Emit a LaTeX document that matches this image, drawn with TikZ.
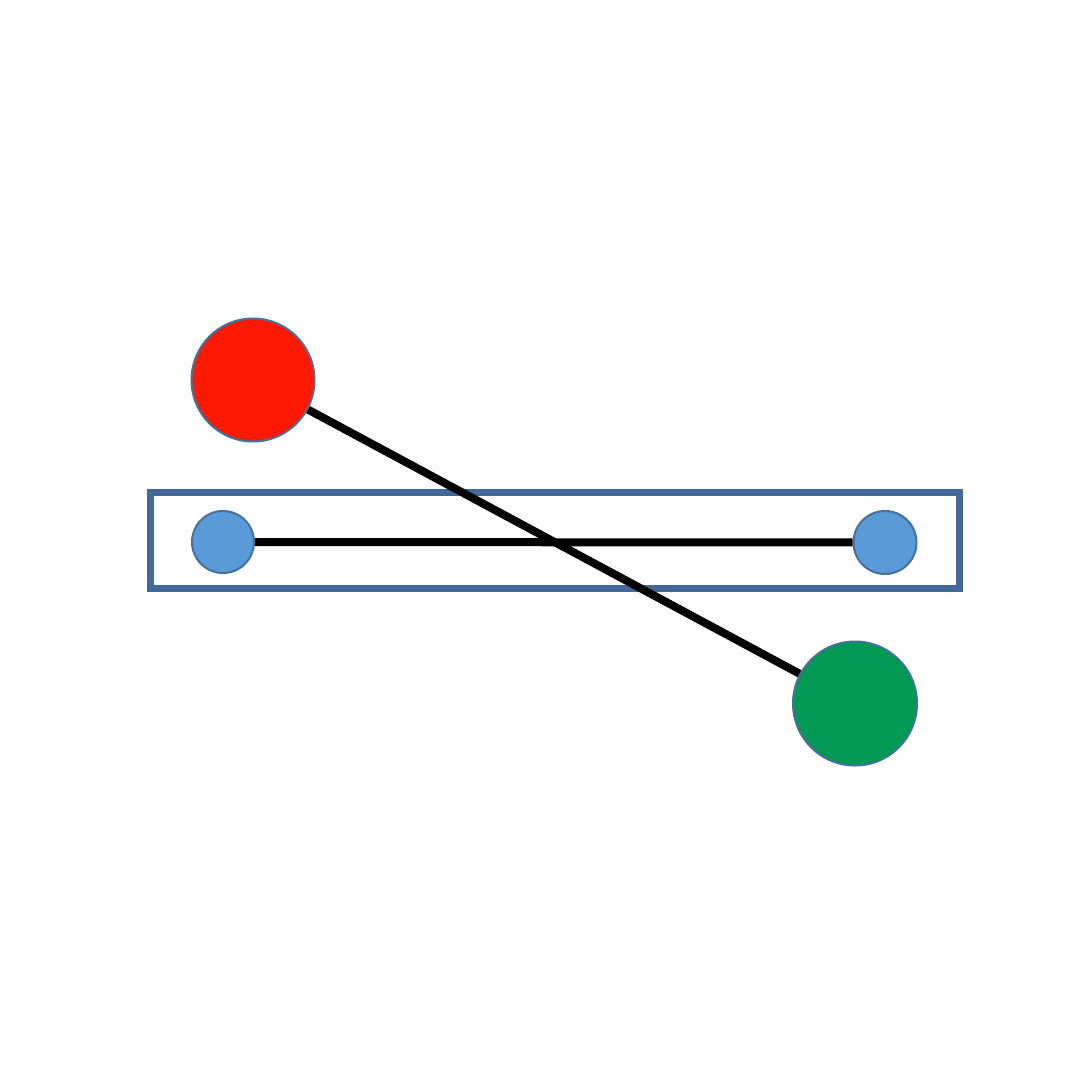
\documentclass[tikz,border=0pt]{standalone}
\begin{document}
\begin{tikzpicture}[x=1pt,y=-1pt,
  ball/.style={circle,draw=outl,line width=2pt,inner sep=0pt},
  link/.style={line width=8pt,draw=black}]
\definecolor{outl}{HTML}{41719C}
\definecolor{boxc}{HTML}{41699A}
\definecolor{redc}{HTML}{FF1900}
\definecolor{greenc}{HTML}{009A52}
\definecolor{bluec}{HTML}{5A9AD8}
\useasboundingbox[fill=white] (0,0) rectangle (1080,1080);
\node[draw=boxc,line width=7pt,minimum width=809pt,minimum height=96pt,inner sep=0pt] (box) at (554.5,540.5) {};
\node[ball,fill=redc,minimum size=123pt] (red) at (253,380) {};
\node[ball,fill=greenc,minimum size=124pt] (green) at (855,703.5) {};
\node[ball,fill=bluec,minimum size=62pt] (bl) at (223,542) {};
\node[ball,fill=bluec,minimum size=63pt] (br) at (885,542.5) {};
\draw[link] (red) -- (green);
\draw[link] (bl) -- (br);
\end{tikzpicture}
\end{document}
